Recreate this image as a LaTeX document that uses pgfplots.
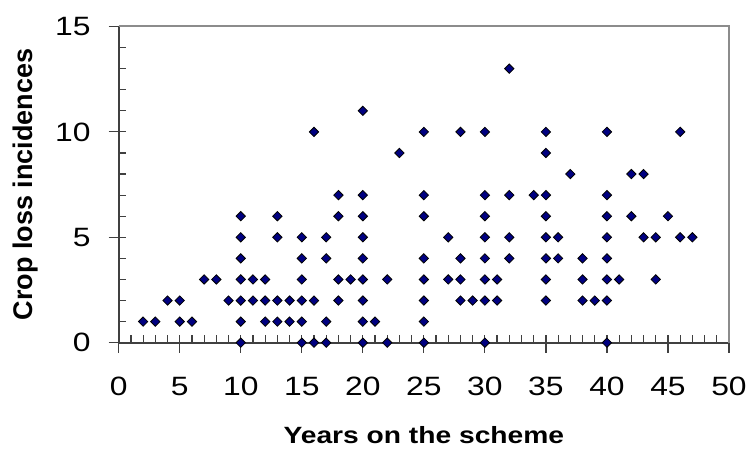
\documentclass[border=0pt]{standalone}
\usepackage{fontspec}
\setmainfont{Liberation Sans}
\newfontfamily\stretchfont[FakeStretch=1.2]{Liberation Sans}
\usepackage{pgfplots}
\pgfplotsset{compat=1.18}
\definecolor{navy}{RGB}{0,0,128}

\begin{document}
\begin{tikzpicture}
\useasboundingbox (-118.7pt,-106.3pt) rectangle (628.3pt,342.7pt);
\begin{axis}[
 at={(0pt,0pt)}, anchor=south west,
 scale only axis, width=610.3pt, height=316.2pt,
 xmin=0, xmax=50, ymin=0, ymax=15,
 axis x line*=bottom, axis y line*=left,
 axis line style={black!75, line width=1.7pt},
 xtick={0,5,...,50}, ytick={0,5,10,15},
 minor x tick num=4, minor y tick num=4,
 tick align=inside,
 major tick length=17.7pt, minor tick length=7.7pt,
 tick style={black!75, line width=1.2pt},
 every major x tick/.append style={yshift=-10pt},
 every major y tick/.append style={xshift=-10pt},
 clip=false,
 /pgf/number format/assume math mode=true,
 ticklabel style={font=\stretchfont\fontsize{26.5}{30}\selectfont, inner sep=0pt},
 xticklabel style={anchor=base, yshift=-53pt},
 yticklabel style={anchor=east, xshift=-28pt},
 xlabel={Years on the scheme},
 ylabel={Crop loss incidences},
 xlabel style={font=\stretchfont\bfseries\fontsize{23.5}{28}\selectfont, at={(axis description cs:0.5,0)}, anchor=base, yshift=-100.6pt, inner sep=0pt},
 ylabel style={font=\bfseries\fontsize{27}{32}\selectfont, at={([xshift=-92.7pt]axis description cs:0,0.5)}, anchor=center},
]
\draw[black!45, line width=2pt] (rel axis cs:0,1) -- (rel axis cs:1,1) -- (rel axis cs:1,0);
\addplot[only marks, mark=square*, mark size=3.3pt, mark options={rotate=45, fill=navy, draw=black, line width=0.8pt}] table {
x y
10 0
15 0
16 0
17 0
20 0
22 0
25 0
30 0
40 0
2 1
3 1
5 1
6 1
10 1
12 1
13 1
14 1
15 1
17 1
20 1
21 1
25 1
4 2
5 2
9 2
10 2
11 2
12 2
13 2
14 2
15 2
16 2
18 2
20 2
25 2
28 2
29 2
30 2
31 2
35 2
38 2
39 2
40 2
7 3
8 3
10 3
11 3
12 3
15 3
18 3
19 3
20 3
22 3
25 3
27 3
28 3
30 3
31 3
35 3
38 3
40 3
41 3
44 3
10 4
15 4
17 4
20 4
25 4
28 4
30 4
32 4
35 4
36 4
38 4
40 4
10 5
13 5
15 5
17 5
20 5
27 5
30 5
32 5
35 5
36 5
40 5
43 5
44 5
46 5
47 5
10 6
13 6
18 6
20 6
25 6
30 6
35 6
40 6
42 6
45 6
18 7
20 7
25 7
30 7
32 7
34 7
35 7
40 7
37 8
42 8
43 8
23 9
35 9
16 10
25 10
28 10
30 10
35 10
40 10
46 10
20 11
32 13
};
\end{axis}
\end{tikzpicture}
\end{document}
